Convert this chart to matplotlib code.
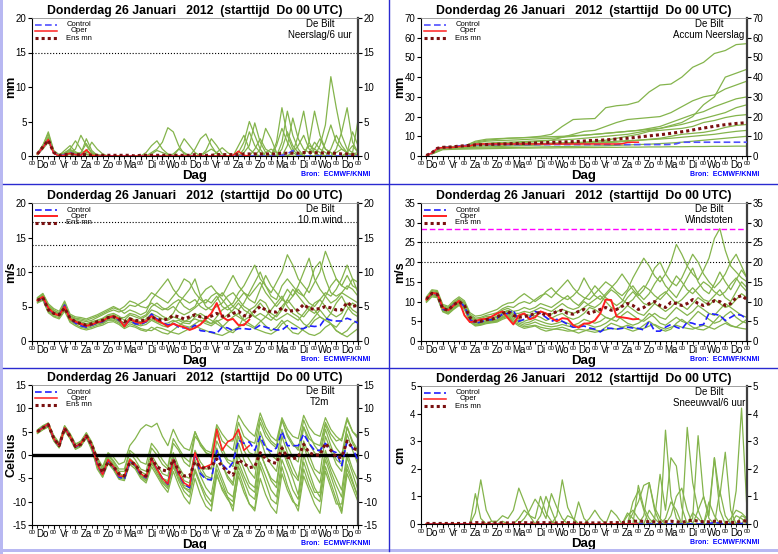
import numpy as np
import matplotlib
matplotlib.use("Agg")
import matplotlib.pyplot as plt
from matplotlib.lines import Line2D
from matplotlib.patches import Rectangle

plt.rcParams['font.family'] = ['Liberation Sans', 'DejaVu Sans']
plt.rcParams['axes.unicode_minus'] = False

TITLE = "Donderdag 26 Januari   2012  (starttijd  Do 00 UTC)"
STATION = "De Bilt"
DAYS = ['Do', 'Vr', 'Za', 'Zo', 'Ma', 'Di', 'Wo', 'Do', 'Vr', 'Za', 'Zo', 'Ma', 'Di', 'Wo', 'Do']

# forecast steps +6h .. +360h, in days
steps = np.arange(1, 61) / 4.0
acc_steps = np.arange(1, 31) / 2.0   # 12-hourly for the accumulated members

# ---------------- Neerslag/6 uur (mm) ----------------
rr_ctrl = [0.3,1.2,2.4,0.5, 0,0.2,0.5,0.2, 0.2,0.3,0,0, 0,0,0,0, 0,0,0,0, 0,0,0,0, 0,0,0,0,
           0,0,0,0, 0,0,0,0, 0,0,0,0, 0,0,0,0, 0,0.1,0.3,0.8, 0,0,0,0, 0,0,0,0, 0,0,0,0]
rr_oper = [0.3,1.2,2.4,0.4, 0,0.1,0.4,0.2, 0.1,0.9,0.1,0, 0,0,0,0, 0,0,0,0, 0,0,0,0, 0,0,0,0,
           0,0,0,0, 0,0,0,0, 0.1,0.7,0.1,0]
rr_mean = [0.3,1.3,2.3,0.5, 0.1,0.2,0.3,0.2, 0.2,0.2,0.1,0.1, 0.1,0.1,0.1,0.1, 0.1,0.1,0.0,0.1,
           0.1,0.1,0.1,0.1, 0.1,0.1,0.1,0.1, 0.1,0.2,0.2,0.1, 0.1,0.2,0.2,0.2, 0.2,0.2,0.3,0.3,
           0.3,0.3,0.3,0.3, 0.3,0.4,0.4,0.4, 0.4,0.5,0.5,0.5, 0.4,0.5,0.4,0.4, 0.3,0.3,0.2,0.2]
rr_members = [
    [0.4,1.6,3.2,0.7, 0.1,0.8,1.5,0.6, 0.3,2.5,0.8,0.1, 0,0,0,0, 0,0,0,0, 0.5,1.5,2.2,1.0, 0.3,0,0,0, 0,0,0,0,
     0,0,0,0, 0,0,0.5,1.5, 4.8,2.0,0.5,0, 0,1.0,3.5,1.5, 0.5,0,0,1.0, 2.5,1.0,0.5,0, 0,0.5,1.5,0.5],
    [0.2,1.0,2.0,0.4, 0,0.3,1.0,2.2, 1.0,0.2,0,0, 0,0,0,0, 0,0,0,0, 0,0.5,1.0,2.0, 4.1,3.5,1.5,0.3, 0,0,0,0,
     0,0,0,0, 0,0,0,0, 0,1.0,4.0,2.5, 0.5,0,0,0.5, 3.0,6.5,2.0,0.5, 0,0,0,0.5, 1.0,0.5,0,0],
    [0.3,1.4,2.8,0.6, 0.1,0.1,0.4,1.0, 3.0,1.5,0.5,0.2, 0.1,0,0,0, 0,0,0,0, 0,0,0,0, 0,0,1.0,2.5, 1.5,0.5,0,0,
     0,0.5,1.2,0.5, 0,0,1.0,3.5, 1.5,0.5,0,0, 0,2.0,6.5,3.0, 1.0,0,0,0, 1.5,4.5,11.5,7.0, 3.0,1.0,0.5,0],
    [0.3,1.2,2.2,0.5, 0,0.2,0.6,0.3, 0.5,1.8,0.4,0, 0,0,0,0, 0,0,0,0, 0,0,0,0, 0,0.3,1.0,0.5, 0,1.0,2.5,3.2,
     1.5,0.3,0,0, 0,0,0,0, 1.0,2.5,1.0,0.5, 0,0,1.5,5.5, 2.5,1.0,0.5,2.0, 1.0,0.5,0,1.0, 3.5,7.0,2.0,0.5],
    [0.2,1.1,2.4,0.4, 0,0.1,0.2,0.1, 0.1,0.3,0.1,0, 0,0,0,0, 0,0,0,0, 0,0,0,0, 0,0,0,0, 0,0,0,0,
     0,0,0,0, 0,0,0,0, 0,0,0.5,1.0, 0.5,0,0,0, 0,0.5,1.5,1.0, 0.5,0,0,0, 0,0,0.3,0.5],
    [0.4,1.5,3.5,0.8, 0.2,0.5,1.0,0.4, 0.2,0.5,2.0,1.0, 0.3,0,0,0, 0,0,0,0, 0,0,0,0, 0,0,0,0, 0,0,0,0.5,
     1.0,0.5,0,0, 0,0.5,2.0,5.0, 3.0,1.0,0,0, 1.5,4.0,2.0,0.5, 0,0,2.0,6.5, 3.0,1.0,0.5,0, 0,0,0.5,5.2],
    [0.3,1.3,2.5,0.6, 0.1,0.4,0.8,0.5, 0.3,0.8,0.3,0.1, 0,0,0,0, 0,0,0,0, 0,0.3,0.8,0.5, 0.2,0,0,0, 0,0,0,0.8,
     2.5,1.5,0.3,0, 0,0,0,0, 0,0,0,0, 0,0,0,0.5, 1.5,3.0,1.0,0.5, 0,2.0,4.5,2.0, 1.0,0.5,3.5,1.5],
    [0.3,1.2,2.6,0.5, 0.1,0.3,0.6,0.4, 0.2,0.6,0.2,0, 0,0,0,0, 0,0,0,0, 0,0,0,0, 0,0,0,0, 0,0,0,0,
     0,0,0,0, 0,1.5,3.0,1.0, 0.3,0,0,0, 2.0,7.0,3.0,1.0, 0,0,0,0, 0,0,1.0,3.0, 1.5,0.5,0,0.3],
]

# ---------------- Accum Neerslag (mm), members 12-hourly ----------------
acc_members = [
    [1.5,4.5,4.8,5.0,7.5,8.5,8.8,9.0,9.2,9.5,10.0,11.0,15.0,18.5,18.8,19.0,24.5,25.5,26.0,27.5,
     32.5,36.0,36.5,40.0,45.0,47.5,52.0,53.5,56.5,57.0],
    [1.3,4.2,4.5,4.8,6.0,6.5,6.8,7.0,7.2,7.5,7.8,8.0,8.2,8.5,9.0,9.5,10.0,10.5,11.0,12.0,
     13.0,14.0,15.5,17.0,20.0,26.0,30.0,40.0,42.0,44.0],
    [1.4,4.4,4.6,4.9,5.5,6.0,6.2,6.5,6.8,7.0,7.5,8.0,9.5,11.0,12.5,13.0,15.0,17.0,18.5,19.0,
     19.5,20.0,22.0,25.0,28.0,30.0,31.0,34.0,36.0,38.0],
    [1.2,4.0,4.3,4.5,6.5,7.5,7.8,8.0,8.2,8.5,8.8,9.0,9.5,10.0,10.5,11.0,11.5,12.0,12.5,13.0,
     14.0,15.0,17.0,19.0,21.0,22.5,25.0,27.0,29.0,30.0],
    [1.3,4.3,4.5,4.7,5.0,5.2,5.4,5.6,5.8,6.0,6.2,6.4,6.6,6.8,7.0,7.5,8.0,9.0,10.0,11.0,
     12.5,13.0,13.5,14.0,15.0,17.0,18.0,19.5,20.5,21.0],
    [1.2,3.8,4.0,4.2,4.4,4.6,4.8,5.0,5.2,5.4,5.6,5.8,6.0,6.2,6.4,6.6,6.8,7.0,7.5,8.0,
     8.5,9.0,10.0,11.0,11.5,12.0,13.0,14.5,15.5,16.0],
    [1.1,3.5,3.7,3.9,4.0,4.1,4.2,4.3,4.4,4.5,4.6,4.7,4.8,4.9,5.0,5.1,5.2,5.4,5.6,5.8,
     6.0,6.3,6.6,7.0,7.5,8.0,8.5,9.0,9.5,10.0],
    [1.0,3.2,3.4,3.5,3.6,3.7,3.8,3.9,4.0,4.0,4.1,4.1,4.2,4.2,4.3,4.3,4.4,4.4,4.5,4.5,
     4.6,4.6,4.7,4.7,4.8,4.8,4.9,4.9,5.0,5.0],
    [1.4,4.5,4.8,5.2,7.0,8.0,8.5,9.0,9.2,9.4,9.6,9.8,10.0,10.3,10.6,11.0,11.5,12.0,12.5,13.0,
     13.5,14.0,15.0,16.0,17.5,19.0,20.5,22.0,24.5,26.0],
    [1.3,4.0,4.2,4.4,5.5,5.8,6.0,6.1,6.2,6.3,6.4,6.5,6.6,6.7,6.8,7.0,7.2,7.5,7.8,8.0,
     8.3,8.6,9.0,9.5,10.0,10.5,11.0,11.8,12.5,13.0],
]

# ---------------- 10 m wind (m/s) ----------------
ff_ctrl = [5.8,6.3,4.6,4.0, 3.8,5.2,3.2,2.6, 2.2,2.0,2.3,2.6, 2.8,3.4,3.5,3.0, 2.3,3.0,2.5,2.4,
           2.8,3.9,3.2,2.7, 2.3,2.6,2.0,1.9, 1.8,2.3,1.5,1.4, 1.3,1.1,2.0,1.9, 1.5,1.8,1.8,1.7,
           1.8,2.3,2.0,1.8, 1.6,1.6,2.2,1.8, 1.8,1.8,2.2,2.1, 2.2,3.3,3.0,2.9, 2.9,3.3,3.0,2.6]
ff_oper = [5.9,6.4,4.8,4.0, 3.7,5.0,3.2,2.8, 2.5,2.2,2.4,2.7, 2.9,3.4,3.6,3.2, 2.1,3.2,2.8,2.6,
           2.9,3.6,3.0,2.6, 2.1,2.5,2.2,2.0, 1.6,1.9,2.4,3.2, 4.0,5.5,3.5,3.0, 3.2,2.3,2.3,3.1]
ff_mean = [5.9,6.3,4.5,4.0, 3.8,4.8,3.3,2.8, 2.5,2.3,2.5,2.8, 3.0,3.4,3.5,3.2, 2.8,3.2,3.0,2.9,
           3.1,3.5,3.2,3.0, 3.2,3.7,3.5,3.2, 3.5,3.8,3.5,3.4, 3.6,4.0,3.6,3.6, 4.0,4.3,3.7,3.5,
           4.3,5.0,4.5,4.2, 4.2,4.8,4.3,4.4, 4.5,5.3,4.7,4.6, 4.7,5.0,4.8,4.5, 4.5,5.6,5.0,5.2]
ff_members = [
    [6.2,6.8,5.2,4.5, 4.0,5.6,3.6,3.2, 3.0,2.8,3.0,3.4, 3.8,4.2,4.5,4.2, 4.5,5.2,5.0,5.5, 6.0,7.0,6.5,6.0,
     5.5,6.5,7.5,9.0, 8.5,7.0,6.0,5.5, 6.5,7.0,6.0,5.0, 5.5,7.0,8.0,9.5, 11.0,9.0,8.0,7.0, 8.5,10.0,12.5,11.0,
     9.0,8.0,7.0,8.5, 10.0,13.0,11.0,9.0, 8.0,9.5,8.0,7.5],
    [5.6,6.0,4.3,3.6, 3.4,4.6,2.9,2.4, 2.0,1.8,2.0,2.3, 2.5,3.0,3.0,2.6, 2.0,2.5,2.2,1.8, 1.6,1.5,2.0,1.8,
     1.5,1.2,1.0,1.4, 1.8,2.2,1.8,1.5, 1.2,1.0,0.8,1.2, 1.6,2.0,2.5,2.2, 1.8,1.5,1.2,1.0, 1.5,2.5,3.0,2.5,
     2.0,1.5,1.0,0.8, 1.2,2.0,2.5,1.5, 1.0,0.6,1.2,1.8],
    [6.0,6.6,5.0,4.2, 3.9,5.4,3.4,3.0, 2.8,2.5,2.8,3.0, 3.3,3.8,4.0,3.6, 3.0,3.8,3.5,3.2, 3.6,4.5,4.2,3.6,
     3.2,4.0,5.5,6.5, 7.5,9.0,6.5,5.0, 4.5,5.0,5.5,6.5, 7.0,6.0,5.0,4.5, 5.0,6.0,5.5,4.0, 3.5,4.5,6.0,7.5,
     6.5,5.5,4.5,4.0, 5.0,6.5,8.0,9.0, 8.0,7.5,9.0,8.5],
    [5.7,6.2,4.4,3.8, 3.6,4.8,3.0,2.6, 2.3,2.0,2.2,2.5, 2.6,3.1,3.2,2.8, 2.2,2.8,2.4,2.2, 2.4,3.0,2.6,2.2,
     2.0,2.8,3.0,2.6, 2.5,3.5,4.0,3.5, 3.0,2.5,2.0,2.8, 3.5,4.0,3.0,2.5, 2.0,2.8,3.5,4.5, 5.5,6.5,5.0,4.0,
     3.5,2.5,2.0,3.0, 3.5,3.0,2.5,2.0, 3.0,4.5,5.5,5.0],
    [6.1,6.7,5.1,4.4, 4.1,5.5,3.7,3.3, 3.2,3.0,3.3,3.6, 4.0,4.4,4.8,4.5, 5.0,5.8,5.5,5.0, 4.8,5.5,5.0,4.5,
     4.8,5.5,6.0,5.0, 4.5,5.0,6.5,7.5, 8.0,7.0,6.5,8.0, 9.5,8.0,7.0,6.5, 7.5,8.5,7.0,6.0, 5.0,6.0,7.5,6.5,
     8.0,10.0,12.0,9.0, 7.5,6.5,5.5,6.0, 7.0,6.5,6.0,5.5],
    [5.8,6.3,4.5,3.9, 3.7,4.9,3.1,2.7, 2.4,2.2,2.4,2.6, 2.7,3.2,3.3,2.9, 2.4,3.0,2.7,2.4, 2.7,3.2,2.8,2.5,
     2.6,3.0,2.6,2.2, 2.0,2.5,3.0,2.8, 2.5,3.5,4.5,5.0, 4.0,3.5,3.0,3.5, 4.5,5.5,4.5,3.5, 3.0,3.5,4.0,3.5,
     3.0,4.0,5.0,4.5, 3.5,3.0,4.0,5.5, 6.5,5.0,4.0,3.5],
    [5.5,5.9,4.1,3.5, 3.2,4.3,2.7,2.2, 1.8,1.6,1.8,2.1, 2.3,2.7,2.8,2.4, 1.8,2.2,2.0,1.6, 1.4,2.0,1.6,1.2,
     1.0,1.6,2.2,2.8, 3.2,4.0,3.5,3.0, 2.5,3.0,2.2,1.5, 1.2,2.0,3.5,4.5, 3.5,3.0,2.2,1.5, 2.0,3.0,2.0,1.2,
     1.0,1.8,2.5,3.5, 4.5,3.5,2.5,1.5, 1.0,1.5,2.5,3.0],
    [6.0,6.5,4.9,4.2, 3.9,5.2,3.4,2.9, 2.6,2.5,2.7,3.0, 3.2,3.6,3.8,3.4, 3.4,4.0,3.8,3.4, 3.8,5.0,5.5,4.8,
     4.5,5.0,4.2,3.8, 4.2,4.8,5.5,6.0, 5.5,6.5,5.0,4.5, 5.0,6.0,7.0,6.0, 5.5,7.5,9.5,8.0, 7.0,6.0,5.5,6.5,
     7.5,6.5,5.5,5.0, 6.0,7.0,6.5,7.5, 9.0,11.0,9.0,7.0],
    [5.9,6.4,4.7,4.0, 3.8,5.0,3.3,2.8, 2.5,2.3,2.5,2.8, 3.0,3.5,3.6,3.1, 2.6,3.4,3.0,2.8, 3.2,4.0,3.6,3.2,
     3.0,3.5,3.2,2.9, 2.8,3.2,2.9,2.5, 2.2,2.8,3.2,3.8, 4.5,5.5,4.5,4.0, 3.5,4.0,3.5,3.0, 3.8,5.0,6.0,5.0,
     4.0,3.5,4.5,5.5, 6.0,5.0,4.0,3.5, 4.0,5.5,4.5,4.0],
    [6.3,6.9,5.4,4.7, 4.3,5.8,3.9,3.5, 3.4,3.2,3.5,3.8, 4.2,4.6,5.0,4.6, 4.0,4.5,4.2,3.8, 4.2,6.0,7.0,8.0,
     9.0,7.5,6.5,6.0, 5.5,6.0,5.0,4.5, 5.0,6.0,7.0,6.0, 5.0,4.5,5.5,7.0, 8.5,10.0,8.0,6.5, 6.0,8.0,9.0,8.0,
     7.0,6.5,8.0,10.5, 11.5,9.0,7.0,6.5, 7.0,8.0,7.5,6.5],
]

# ---------------- Windstoten (m/s) ----------------
fx_ctrl = [10.5,12.0,12.0,8.0, 7.8,9.2,10.0,8.8, 5.5,4.5,4.8,5.3, 5.4,5.8,6.8,7.0, 7.8,5.0,5.5,6.0,
           7.5,7.0,6.0,5.0, 5.5,5.0,4.2,3.5, 3.6,3.8,3.3,3.0, 2.3,3.3,3.2,3.0, 3.2,3.5,3.3,3.2,
           2.8,5.0,2.5,2.5, 3.5,4.2,3.5,3.0, 4.8,4.5,4.0,4.2, 7.0,6.8,6.5,5.2, 6.0,6.8,6.5,5.5]
fx_oper = [10.5,12.2,12.0,8.5, 7.8,9.0,10.2,6.5, 4.8,5.0,5.5,5.6, 6.2,7.0,7.5,5.8, 4.2,6.5,7.0,5.5,
           6.0,7.5,7.0,5.8, 5.0,5.8,5.6,4.0, 3.4,4.4,4.5,5.2, 7.0,10.5,10.4,6.2, 6.0,5.8,5.5,5.6]
fx_mean = [10.6,12.1,11.8,8.2, 7.8,9.2,10.0,9.0, 6.0,5.0,5.0,5.4, 5.5,6.0,7.0,7.5, 6.5,6.0,6.2,6.5,
           7.0,7.2,6.5,6.8, 7.5,7.8,7.0,6.8, 7.5,8.0,7.0,7.5, 8.0,8.5,7.8,8.0, 8.8,9.5,9.0,8.0,
           8.5,9.5,10.0,9.0, 8.5,9.8,9.5,9.0, 9.5,10.5,9.5,9.0, 9.5,10.2,10.0,9.0, 9.5,11.0,11.5,10.5]
fx_members = [
    [11.0,12.8,12.5,9.0, 8.5,9.8,10.8,9.8, 6.8,5.8,6.0,6.5, 6.8,7.2,8.2,8.8, 8.5,9.5,10.0,9.5, 10.5,11.5,12.0,11.0,
     12.5,14.0,15.5,13.5, 12.0,11.0,10.5,12.0, 13.5,15.0,14.0,12.5, 11.5,13.0,16.0,18.5, 21.0,19.0,16.5,15.0,
     17.0,20.0,24.5,22.0, 19.0,17.0,15.5,18.0, 21.0,26.0,28.5,23.0, 19.0,17.5,16.0,15.0],
    [10.0,11.5,11.2,7.6, 7.0,8.2,9.2,8.2, 5.0,4.0,4.2,4.6, 4.8,5.0,5.8,6.3, 5.0,4.2,3.6,3.8, 4.0,3.5,3.2,3.0,
     3.0,2.8,2.5,2.6, 3.0,2.8,2.5,2.2, 2.5,2.8,3.2,3.0, 3.5,4.0,3.5,3.0, 3.2,3.8,4.2,3.5, 3.0,3.5,4.0,3.5,
     3.2,3.0,3.5,4.0, 3.5,3.0,3.8,4.5, 3.8,3.5,3.2,3.0],
    [10.8,12.5,12.3,8.8, 8.2,9.5,10.5,9.5, 6.5,5.5,5.7,6.2, 6.2,6.8,7.8,8.3, 7.5,7.8,8.5,8.0, 8.5,9.5,9.0,8.5,
     9.5,10.5,11.5,10.0, 9.0,10.5,12.0,14.0, 12.5,11.0,10.0,9.0, 10.0,12.5,14.0,12.0, 10.5,12.0,14.5,16.5,
     14.0,12.5,11.0,13.5, 16.0,18.5,15.0,13.0, 12.0,14.5,17.5,15.0, 13.0,15.5,18.0,16.0],
    [10.2,11.8,11.5,7.8, 7.3,8.6,9.6,8.6, 5.3,4.3,4.5,5.0, 5.0,5.3,6.2,6.8, 5.8,5.0,4.5,4.8, 5.5,5.0,4.5,4.2,
     4.5,5.0,4.5,4.0, 4.5,5.5,5.0,4.5, 5.0,6.0,5.5,5.0, 6.5,7.5,6.5,5.5, 5.0,6.0,7.0,6.0, 5.5,7.0,8.5,7.5,
     6.5,7.5,9.0,8.0, 7.0,6.5,8.0,9.5, 8.5,7.5,6.5,6.0],
    [11.2,13.0,12.8,9.3, 8.8,10.2,11.2,10.2, 7.2,6.3,6.5,7.0, 7.5,8.0,9.0,9.6, 9.8,11.0,12.0,11.0, 10.0,11.0,12.5,13.5,
     12.0,11.0,10.5,11.5, 13.0,16.0,13.5,11.5, 10.5,12.0,13.5,15.0, 17.0,15.0,13.0,11.5, 13.0,15.5,18.5,20.0,
     17.0,15.0,14.0,16.0, 19.0,22.0,20.0,17.0, 15.0,13.5,15.0,17.0, 20.0,22.0,19.0,16.0],
    [10.4,12.0,11.8,8.0, 7.6,8.9,9.9,8.9, 5.6,4.6,4.8,5.2, 5.2,5.6,6.5,7.2, 6.2,5.5,5.0,5.5, 6.5,6.0,5.2,5.8,
     6.5,7.0,6.0,5.5, 6.0,7.0,8.5,8.0, 7.0,6.0,5.5,6.5, 7.5,9.0,8.0,7.0, 6.5,8.0,9.5,8.5, 7.5,8.5,10.0,9.0,
     8.0,9.5,11.0,10.0, 9.0,10.5,9.5,8.5, 9.0,10.5,12.0,11.0],
    [9.8,11.2,11.0,7.4, 6.8,8.0,9.0,8.0, 4.8,3.8,4.0,4.4, 4.6,4.8,5.5,6.0, 4.8,3.8,3.2,3.5, 3.8,3.0,2.5,2.8,
     3.2,3.5,3.0,2.5, 2.0,2.5,3.0,2.8, 2.5,3.5,4.5,4.0, 3.5,3.0,2.5,3.0, 4.0,5.0,4.0,3.0, 2.5,3.0,4.5,5.5,
     4.5,3.5,3.0,2.8, 3.5,5.0,6.5,5.0, 4.0,3.5,4.5,5.5],
    [10.7,12.3,12.1,8.5, 8.0,9.4,10.4,9.3, 6.2,5.2,5.3,5.8, 5.8,6.3,7.2,7.8, 7.0,7.0,7.5,7.2, 7.8,8.5,8.0,7.5,
     8.5,9.5,8.5,8.0, 8.5,10.0,9.0,8.5, 9.5,11.5,13.0,12.0, 10.5,9.5,10.5,12.5, 14.0,13.0,11.5,10.5,
     12.0,14.0,16.5,15.0, 13.0,12.0,13.5,15.0, 14.0,12.5,11.5,12.5, 14.5,16.0,14.0,12.5],
    [10.1,11.6,11.4,7.7, 7.2,8.4,9.4,8.4, 5.2,4.2,4.3,4.8, 4.9,5.2,6.0,6.5, 5.4,4.6,4.0,4.3, 4.8,4.2,3.8,3.6,
     3.8,4.2,3.8,3.5, 3.8,4.5,4.0,3.5, 3.8,4.5,5.5,6.5, 5.5,4.5,4.0,4.5, 5.5,7.0,6.0,4.5, 4.0,5.0,6.0,5.0,
     4.5,6.0,7.5,6.5, 5.5,4.5,5.0,6.5, 7.5,6.0,5.0,4.5],
    [10.6,12.2,12.0,8.3, 7.9,9.1,10.1,9.1, 6.0,5.0,5.1,5.6, 5.6,6.0,7.0,7.6, 6.6,6.4,6.8,6.5, 7.0,7.5,7.0,6.8,
     7.5,8.0,7.5,7.0, 7.5,8.5,9.5,10.5, 11.5,10.0,8.5,8.0, 9.0,11.0,12.5,11.0, 9.5,9.0,10.0,11.5,
     12.5,11.0,9.5,10.5, 12.0,13.5,12.0,10.5, 10.0,11.5,13.0,11.0, 10.0,12.5,15.0,13.5],
]

# ---------------- T2m (Celsius) ----------------
tt_ctrl = [5.0,5.9,6.6,3.5, 1.9,5.9,4.0,1.7, 2.4,4.1,1.9,-2.0, -4.3,-1.2,-2.6,-4.7, -5.2,-1.2,-2.2,-4.2,
           -4.9,-0.8,-3.0,-5.0, -6.3,-0.8,-4.2,-6.2, -7.0,0.5,-4.0,-5.2, -5.3,1.0,-2.0,-3.2, -1.5,3.2,2.5,2.8,
           1.0,4.0,1.5,0.8, 1.5,5.0,2.0,2.0, 2.0,4.5,2.5,1.0, 1.0,2.5,1.0,0.5, -2.3,3.0,1.5,-1.2]
tt_oper = [5.0,5.8,6.7,3.5, 2.0,5.8,4.0,1.8, 2.5,4.2,2.0,-2.0, -4.2,-1.0,-2.5,-4.5, -4.6,-1.0,-2.0,-4.0,
           -4.8,-0.8,-3.0,-5.0, -6.2,-1.0,-4.0,-6.0, -6.7,0.5,-2.8,-2.5, -2.0,5.5,1.0,2.8, 3.5,5.5,1.0,2.0]
tt_mean = [5.0,5.8,6.5,3.6, 2.0,5.7,4.0,1.8, 2.3,4.1,2.2,-1.0, -3.8,-1.5,-2.5,-4.0, -4.5,-1.5,-2.0,-3.8,
           -4.5,-0.8,-2.5,-3.2, -3.5,-1.0,-3.5,-4.5, -4.5,-1.5,-2.5,-3.0, -2.5,-0.8,-2.5,-3.5, -4.3,-1.0,-1.8,-2.7,
           -2.5,0.5,-0.8,-1.5, -1.8,1.5,-0.5,-0.8, -0.5,2.3,0.5,0.0, 0.0,2.5,1.0,-0.5, -0.5,3.0,1.5,1.0]
tt_members = [
    [5.3,6.2,6.9,4.0, 2.5,6.2,4.5,2.3, 3.0,4.8,2.8,-0.5, -2.5,0.5,-0.5,-2.0, -1.5,2.0,3.5,5.5, 6.5,6.0,6.8,4.0,
     2.0,5.5,3.0,1.5, 1.0,5.0,2.0,0.5, 0.0,6.0,3.0,2.0, 1.0,7.0,4.0,3.0, 2.5,8.0,5.0,3.0, 2.0,7.5,4.0,2.0,
     1.5,6.0,3.5,2.5, 2.0,7.0,4.5,3.0, 3.5,8.0,5.0,4.0],
    [4.8,5.5,6.2,3.0, 1.5,5.2,3.5,1.2, 1.8,3.8,1.0,-2.5, -4.5,-1.5,-3.0,-5.0, -5.2,-1.5,-2.5,-4.5, -5.5,-1.5,-3.5,-5.5,
     -6.5,-2.0,-5.0,-7.0, -8.0,-3.0,-6.0,-8.5, -10.0,-4.0,-7.5,-9.5, -11.0,-4.5,-8.0,-10.5, -12.0,-5.0,-8.5,-11.0,
     -12.5,-4.0,-7.5,-10.0, -11.0,-3.0,-6.5,-9.0, -10.0,-2.5,-6.0,-9.5, -12.5,-4.0,-7.0,-10.0],
    [5.2,6.0,6.5,3.8, 2.2,6.0,4.2,2.0, 2.2,4.0,2.2,-1.5, -3.8,-0.5,-2.0,-4.0, -4.5,-0.8,-2.2,-4.5, -5.0,-0.5,-3.0,-5.0,
     -6.0,-1.0,-4.0,-6.5, -7.0,0.5,-3.5,-5.0, -5.5,1.5,-2.0,-4.5, -6.0,2.5,-1.0,-3.5, -5.0,3.5,0.0,-2.0,
     -3.5,4.0,0.5,-2.5, -5.0,2.0,-1.5,-4.0, -6.0,1.0,-2.5,-5.0, -7.5,0.5,-3.0,-5.5],
    [5.0,5.6,6.3,3.6, 2.0,5.6,3.8,1.6, 2.6,4.5,2.6,-1.0, -3.0,0.0,-1.5,-3.5, -3.5,0.5,-1.0,-3.0, -3.5,1.5,0.0,-2.0,
     -3.0,2.5,1.0,-1.5, -2.5,4.0,2.5,1.0, 0.5,6.5,4.5,3.0, 3.0,8.5,6.5,5.0, 4.0,9.0,6.0,4.0, 3.0,8.0,5.5,4.0,
     3.5,8.5,6.0,4.5, 4.0,8.0,5.5,4.0, 3.0,7.5,5.0,3.5],
    [4.6,5.4,6.0,3.2, 1.6,5.4,3.6,1.4, 2.0,3.6,1.5,-3.0, -4.8,-1.8,-3.2,-5.2, -5.5,-2.0,-3.0,-5.0, -6.0,-2.5,-4.5,-6.5,
     -8.0,-3.5,-6.5,-9.0, -10.5,-5.0,-8.5,-11.0, -12.0,-4.5,-7.0,-9.0, -10.0,-1.5,-4.5,-7.0, -8.0,0.5,-2.5,-5.5,
     -7.0,1.5,-2.0,-5.0, -8.5,0.0,-3.5,-7.0, -9.0,-1.0,-4.5,-8.0, -12.0,-2.0,-5.5,-9.0],
    [5.1,5.9,6.6,3.6, 2.0,5.9,4.1,1.9, 2.4,4.3,2.0,-1.8, -4.0,-0.8,-2.2,-4.2, -4.4,-0.8,-1.8,-3.6, -4.2,0.0,-2.0,-4.0,
     -4.5,0.5,-2.5,-4.5, -5.0,1.0,-1.5,-3.0, -3.0,3.0,0.5,-1.5, -2.5,4.0,1.0,-1.0, -3.0,5.0,2.0,0.0,
     -1.0,5.5,2.0,-0.5, -1.5,6.0,2.5,0.5, -0.5,5.5,2.0,-1.0, -2.0,6.0,2.5,0.5],
    [4.9,5.7,6.4,3.4, 1.8,5.7,3.9,1.7, 2.3,4.1,1.8,-2.2, -4.4,-1.2,-2.7,-4.7, -4.8,-1.2,-2.4,-4.4, -5.2,-1.2,-3.2,-5.8,
     -6.8,-1.5,-4.5,-7.0, -7.5,-1.0,-4.5,-7.0, -8.5,-2.0,-5.0,-8.0, -9.0,-2.5,-5.5,-8.5, -9.5,-1.5,-4.5,-7.5,
     -9.0,-1.0,-4.0,-7.5, -9.5,-1.5,-5.0,-8.0, -8.0,0.0,-3.5,-6.5, -9.0,-0.5,-4.0,-7.5],
    [5.4,6.3,6.8,4.2, 2.6,6.3,4.6,2.4, 2.8,4.6,2.5,-0.8, -3.2,0.2,-1.2,-3.0, -3.0,1.0,0.0,-1.5, -2.0,2.5,1.0,-1.0,
     -2.5,3.5,1.5,-0.5, -1.5,5.0,2.5,0.5, -0.5,4.5,1.5,-1.0, -1.5,5.5,2.5,0.5, 0.0,7.0,4.0,2.5, 1.5,7.5,4.5,2.5,
     1.0,7.5,4.5,2.0, 0.5,6.5,3.5,1.5, 0.0,6.0,3.0,1.0],
    [4.7,5.5,6.1,3.3, 1.7,5.5,3.7,1.5, 2.1,3.9,1.6,-2.6, -4.6,-1.4,-2.9,-4.9, -5.0,-1.4,-2.6,-4.6, -5.6,-1.8,-4.0,-6.0,
     -7.2,-2.5,-5.5,-7.8, -9.0,-3.5,-6.5,-9.5, -11.0,-3.0,-6.0,-9.0, -12.0,-3.5,-7.0,-10.5, -11.5,-2.5,-6.0,-9.5,
     -10.5,-2.5,-6.5,-9.5, -12.0,-4.5,-7.5,-10.5, -12.5,-3.5,-7.0,-10.5, -10.5,-3.0,-6.0,-9.0],
    [5.0,5.8,6.5,3.5, 1.9,5.8,4.0,1.8, 2.5,4.2,1.9,-2.0, -4.2,-1.0,-2.5,-4.5, -4.6,-1.0,-2.0,-4.0, -4.8,-0.8,-2.8,-5.0,
     -5.5,-0.5,-3.0,-5.5, -6.0,0.0,-2.5,-4.5, -5.0,1.0,-2.0,-5.0, -6.5,0.0,-3.0,-6.0, -7.0,0.5,-2.5,-5.0,
     -6.0,2.0,-1.0,-4.0, -5.5,3.0,0.0,-3.0, -4.0,4.0,1.0,-2.0, -3.5,4.5,1.0,-2.0],
]

# ---------------- Sneeuwval/6 uur (cm) ----------------
sn_ctrl = [0.0] * 52 + [0.02, 0.05, 0.03, 0.0, 0.0, 0.0, 0.02, 0.0]
sn_oper = [0.0] * 40
sn_mean = [0.02,0.02,0.02,0.02, 0.02,0.02,0.02,0.02, 0.03,0.05,0.05,0.03, 0.03,0.04,0.04,0.04, 0.04,0.05,0.05,0.04,
           0.04,0.05,0.05,0.04, 0.04,0.05,0.05,0.04, 0.04,0.04,0.04,0.04, 0.04,0.04,0.05,0.05, 0.05,0.08,0.10,0.10,
           0.10,0.08,0.08,0.06, 0.08,0.10,0.08,0.06, 0.10,0.14,0.10,0.08, 0.08,0.10,0.08,0.06, 0.05,0.06,0.10,0.12]
sn_members = [
    [0,0,0,0, 0,0,0,0, 0,1.1,0.2,0, 0,0,0,0, 0,0,0,0, 0,0,0,0, 0,0,0,0, 0,0,0,0, 0,0,0,0, 0,0,0,1.4,
     0.6,0.2,0,0, 3.4,1.0,0.2,0, 0,0,0.5,1.0, 0.3,2.4,0.5,0, 0,0,0.3,0.2],
    [0,0,0,0, 0,0,0,0, 0,0.4,1.6,0.5, 0.1,0,0,0, 0,0.2,0.5,0.3, 0,0,0,0, 0.3,1.6,0.6,0.2, 0,0,0,0, 0,0,0.5,0.3,
     0,0,0,0, 0.3,1.5,0.6,0.2, 0,0,0,0, 3.5,1.5,0.5,0, 0,0,0,0, 0,1.2,4.2,0.5],
    [0,0,0,0, 0,0,0,0, 0,0,0,0, 0.1,0.1,0.3,0.2, 0.5,1.3,0.8,0.3, 0.2,1.0,0.4,0.1, 0,0,0,0, 0.8,0.2,0,0,
     0,0,0,0, 0,0.3,0.5,0.2, 0,0,0.2,1.8, 0.5,2.4,2.1,0.6, 0,0.2,3.2,1.0, 0.2,0,0,0, 0,0.3,0.2,0],
    [0,0,0,0, 0,0,0,0, 0,0,0,0, 0,0,0,0, 0,0,0.2,0.5, 0.9,0.6,0.2,1.1, 0.6,0.2,0,0, 0,0,0.2,0.5,
     0.2,0,0,0, 0,0,0.8,1.2, 0.5,0,0,0, 0,0.3,1.0,1.3, 0.5,0,0,0, 0.5,2.4,1.0,2.6, 0.5,0,0,0],
    [0,0,0,0, 0,0,0,0, 0,0,0,0, 0,0,0.1,0, 0,0,0,0, 0,0.3,1.0,0.5, 0,0,0.3,0.2, 0,0,0,0,
     0,0,0,0, 0,0.4,0.2,0, 0,0.5,0.2,0, 0,0,0,0, 0,0,0,0, 0,0,1.2,0.3, 0,0,0,0.3],
    [0,0,0,0, 0,0,0,0, 0,0,0,0, 0,0,0,0, 0,0,0,0, 0,0,0,0, 0,0,0,0, 0,0,0,0,
     0,0,0,0, 0,0,0.4,0.8, 1.4,1.5,0.5,0, 0.2,0.8,0.5,0, 0,0.4,0.2,0, 0.8,0.3,0,0, 0.2,0.5,0.4,0.2],
]

GREEN = '#84b44c'
W, H = 778, 554


def rect(x0, top, w, h):
    return [x0 / W, 1 - (top + h) / H, w / W, h / H]


def draw_panel(ax, h_px, mx, members, ctrl, oper, mean, ylim, ystep, ylabel, name,
               ctrl_col='#2020ff', oper_lw=1.1):
    for m in members:
        ax.plot(mx, m, color=GREEN, lw=0.9, zorder=2)
    ax.plot(steps, ctrl, color=ctrl_col, ls=(0, (4, 2)), lw=1.2, zorder=4)
    ax.plot(steps[:len(oper)], oper, color='#ff2020', lw=oper_lw, zorder=5)
    ax.plot(steps, mean, color='#7a1010', ls=(0, (1, 1)), lw=2.2, zorder=6)

    ax.set_xlim(0, 15)
    ax.set_ylim(*ylim)
    ax.set_yticks(np.arange(ylim[0], ylim[1] + 1, ystep))
    ax.tick_params(axis='y', left=True, right=True, labelleft=True, labelright=True,
                   direction='out', length=3, labelsize=7, pad=1)
    ax.set_xticks(np.arange(0, 16))
    ax.set_xticklabels(['00'] * 16)
    ax.set_xticks(steps, minor=True)
    ax.tick_params(axis='x', which='major', length=3, labelsize=4.5, pad=0.3)
    ax.tick_params(axis='x', which='minor', length=2.5)
    for s in ['left', 'bottom']:
        ax.spines[s].set_linewidth(0.8)
    ax.spines['right'].set_linewidth(1.6)
    ax.spines['right'].set_color('#404040')
    ax.spines['top'].set_linewidth(0.6)
    ax.spines['top'].set_color('#909090')

    ax.set_title(TITLE, fontsize=8.8, fontweight='bold', pad=3)
    for i, d in enumerate(DAYS):
        ax.annotate(d, xy=(i + 0.5, 0), xycoords=('data', 'axes fraction'), xytext=(0, -6.3),
                    textcoords='offset points', ha='center', va='center', fontsize=7)
    ax.annotate('Dag', xy=(0.5, 0), xycoords='axes fraction', xytext=(0, -14.2),
                textcoords='offset points', ha='center', va='center', fontsize=9.5, fontweight='bold')
    ax.annotate('Bron:  ECMWF/KNMI', xy=(1, 0), xycoords='axes fraction', xytext=(9, -13.5),
                textcoords='offset points', ha='right', va='center', fontsize=5,
                fontweight='bold', color='#0000ff')
    ax.annotate(ylabel, xy=(0, 0.5), xycoords='axes fraction', xytext=(-15, 0),
                textcoords='offset points', ha='center', va='center', rotation=90,
                fontsize=9, fontweight='bold')
    ax.annotate(STATION, xy=(0.883, 1), xycoords='axes fraction', xytext=(0, -4.5),
                textcoords='offset points', ha='center', va='center', fontsize=7)
    ax.annotate(name, xy=(0.883, 1), xycoords='axes fraction', xytext=(0, -12.5),
                textcoords='offset points', ha='center', va='center', fontsize=7)

    # legend box drawn by hand, like the original
    leg = [('Control', dict(color=ctrl_col, ls=(0, (4, 2)), lw=1.2), 7),
           ('Oper', dict(color='#ff2020', lw=oper_lw), 13),
           ('Ens mn', dict(color='#7a1010', ls=(0, (1, 1)), lw=2.2), 20)]
    for txt, kw, ypx in leg:
        yf = 1 - ypx / h_px
        ax.plot([0.01, 0.077], [yf, yf], transform=ax.transAxes, clip_on=False, zorder=7, **kw)
        ax.text(0.144, yf, txt, transform=ax.transAxes, ha='center', va='center', fontsize=5.5)


fig = plt.figure(figsize=(W / 100, H / 100), dpi=100)

ax1 = fig.add_axes(rect(32, 18, 326, 138))
ax1.axhline(15, color='black', ls=':', lw=0.8, zorder=1)
draw_panel(ax1, 138, steps, rr_members, rr_ctrl, rr_oper, rr_mean, (0, 20), 5, 'mm',
           'Neerslag/6 uur', ctrl_col='#5050ff')

ax2 = fig.add_axes(rect(421, 18, 326, 138))
draw_panel(ax2, 138, acc_steps, acc_members, np.cumsum(rr_ctrl), np.cumsum(rr_oper),
           np.cumsum(rr_mean), (0, 70), 10, 'mm', 'Accum Neerslag', ctrl_col='#5050ff')

ax3 = fig.add_axes(rect(32, 203, 326, 138))
for lev in [10.8, 13.9, 17.2]:
    ax3.axhline(lev, color='black', ls=':', lw=0.8, zorder=1)
draw_panel(ax3, 138, steps, ff_members, ff_ctrl, ff_oper, ff_mean, (0, 20), 5, 'm/s',
           '10 m wind', oper_lw=1.4)

ax4 = fig.add_axes(rect(421, 203, 326, 138))
for lev in [20, 25]:
    ax4.axhline(lev, color='black', ls=':', lw=0.8, zorder=1)
ax4.axhline(28.5, color='#ff00ff', ls=(0, (4, 2)), lw=1.0, zorder=1)
draw_panel(ax4, 138, steps, fx_members, fx_ctrl, fx_oper, fx_mean, (0, 35), 5, 'm/s',
           'Windstoten', oper_lw=1.4)

ax5 = fig.add_axes(rect(32, 385, 326, 140))
ax5.axhline(0, color='black', lw=2.4, zorder=3)
draw_panel(ax5, 140, steps, tt_members, tt_ctrl, tt_oper, tt_mean, (-15, 15), 5, 'Celsius',
           'T2m')

ax6 = fig.add_axes(rect(421, 386, 326, 138))
draw_panel(ax6, 138, steps, sn_members, sn_ctrl, sn_oper, sn_mean, (0, 5), 1, 'cm',
           'Sneeuwval/6 uur')

# panel frame lines and border
fig.add_artist(Line2D([389 / W, 389 / W], [3 / H, 1], color='#2a2ad0', lw=1.0))
for ypx in [184, 368]:
    fig.add_artist(Line2D([3 / W, 1], [1 - ypx / H, 1 - ypx / H], color='#2a2ad0', lw=1.0))
fig.add_artist(Rectangle((0, 0), 3 / W, 1, transform=fig.transFigure, color='#b8b8f2', lw=0))
fig.add_artist(Rectangle((0, 2 / H), 1, 3 / H, transform=fig.transFigure, color='#b8b8f2', lw=0))

fig.savefig('out.png', dpi=100)
